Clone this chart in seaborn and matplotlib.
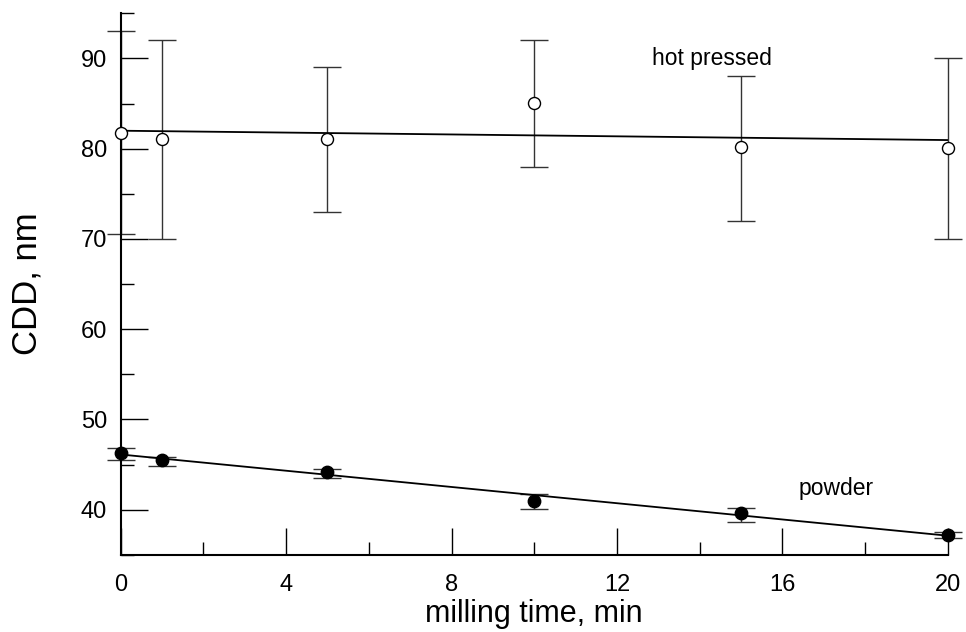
import numpy as np
import pandas as pd
import matplotlib
matplotlib.use("Agg")
import matplotlib.pyplot as plt
from matplotlib.ticker import MultipleLocator
import seaborn as sns

# milling time, min
time = [0, 1, 5, 10, 15, 20]

# hot pressed CDD, nm (open circles) with error bars
hot_cdd = [81.7, 81.1, 81.1, 85.1, 80.2, 80.1]
hot_lo = [70.5, 70.0, 73.0, 78.0, 72.0, 70.0]
hot_hi = [93.0, 92.0, 89.0, 92.0, 88.0, 90.0]

# powder CDD, nm (filled circles) with error bars
pow_cdd = [46.3, 45.5, 44.2, 41.0, 39.6, 37.2]
pow_lo = [45.5, 44.9, 43.5, 40.1, 38.6, 36.9]
pow_hi = [46.8, 45.8, 44.5, 41.8, 40.2, 37.5]

df = pd.DataFrame({"time": time, "hot": hot_cdd, "powder": pow_cdd})

sns.set_style("white", {"xtick.bottom": True, "ytick.left": True,
                        "text.color": "black", "axes.labelcolor": "black",
                        "xtick.color": "black", "ytick.color": "black"})
plt.rcParams['font.family'] = ['Liberation Sans', 'DejaVu Sans']

fig = plt.figure(figsize=(9.66, 6.32), dpi=100)
ax = fig.add_axes([0.125, 0.122, 0.856, 0.857])

# error bars
for y, lo, hi in [(hot_cdd, hot_lo, hot_hi), (pow_cdd, pow_lo, pow_hi)]:
    y = np.array(y)
    eb = ax.errorbar(time, y, yerr=[y - np.array(lo), np.array(hi) - y],
                     fmt='none', ecolor='#333333', elinewidth=1.0, capsize=10,
                     capthick=1.0, zorder=2)
    for art in eb.lines[1] + eb.lines[2]:
        art.set_clip_on(False)

# linear fits and markers
sns.regplot(data=df, x="time", y="hot", ci=None, ax=ax, truncate=True,
            scatter_kws=dict(s=75, facecolors='white', edgecolors='black', alpha=1,
                             linewidths=1.0, zorder=3, clip_on=False),
            line_kws=dict(color='black', lw=1.3, zorder=2), marker='o', color='black')
sns.regplot(data=df, x="time", y="powder", ci=None, ax=ax, truncate=True,
            scatter_kws=dict(s=80, facecolors='black', edgecolors='black', alpha=1,
                             zorder=3, clip_on=False),
            line_kws=dict(color='black', lw=1.3, zorder=2), marker='o', color='black')

ax.set_xlim(0, 20)
ax.set_ylim(35, 95)
ax.xaxis.set_major_locator(MultipleLocator(4))
ax.xaxis.set_minor_locator(MultipleLocator(2))
ax.yaxis.set_minor_locator(MultipleLocator(5))
ax.set_yticks([40, 50, 60, 70, 80, 90])

ax.tick_params(which='major', direction='in', length=19.5, width=1.0, labelsize=17,
               pad=14, bottom=True, left=True)
ax.tick_params(which='minor', direction='in', length=9.5, width=1.0,
               bottom=True, left=True)
ax.tick_params(axis='y', which='major', pad=10)

for side in ['top', 'right']:
    ax.spines[side].set_visible(False)
for side in ['left', 'bottom']:
    ax.spines[side].set_linewidth(1.5)
    ax.spines[side].set_color('black')

ax.set_xlabel("milling time, min", fontsize=22, labelpad=2)
ax.set_ylabel("CDD, nm", fontsize=25)
ax.yaxis.set_label_coords(-0.094, 0.5)

ax.text(14.3, 90, "hot pressed", fontsize=16.5, ha='center', va='center')
ax.text(17.3, 42.3, "powder", fontsize=16.5, ha='center', va='center')

fig.savefig("out.png", dpi=100)
